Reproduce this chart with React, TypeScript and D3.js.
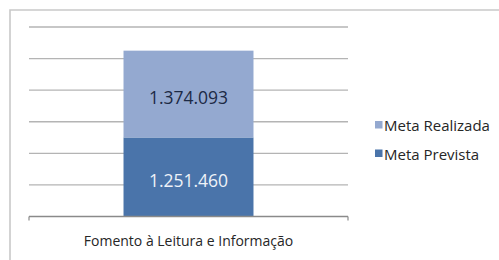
import React from "react";
import * as d3 from "d3";

const categories = ["Fomento à Leitura e Informação"];
const seriesNames = ["Meta Prevista", "Meta Realizada"];
const metaPrevista = [1251460];
const metaRealizada = [1374093];
const tickValues = [0, 500000, 1000000, 1500000, 2000000, 2500000, 3000000];
const colors = ["#4a74aa", "#94a9d0"];
const labelColors = ["#eef2f8", "#1c2a45"];

const fmt = (v: number) => d3.format(",")(v).replace(/,/g, ".");

export default function App() {
  const W = 499, H = 260;
  const font = "'Open Sans', sans-serif";

  const x = d3.scaleBand().domain(categories).range([29, 348]).padding(0.421);
  const y = d3.scaleLinear().domain([0, 3000000]).range([216.5, 27]);

  const table = categories.map((c, i) => ({ cat: c, prev: metaPrevista[i], real: metaRealizada[i] }));
  const stacked = d3.stack<any>().keys(["prev", "real"])(table);

  return (
    <svg width={W} height={H} style={{ position: "absolute", left: 0, top: 0, background: "#fff" }}>
      {/* frame */}
      <path d={`M10,${H} V10 H${W}`} fill="none" stroke="#c9c9c9" strokeWidth={1.6} />

      {/* gridlines */}
      {tickValues.slice(1).map(t => (
        <line key={t} x1={29} x2={348} y1={y(t)} y2={y(t)} stroke="#b4b4b4" strokeWidth={1.4} />
      ))}

      {/* bars */}
      {stacked.map((s, si) => s.map((d, i) => {
        const cat = categories[i];
        const bx = x(cat)!;
        const y0 = y(d[0]), y1 = y(d[1]);
        const v = d[1] - d[0];
        return (
          <g key={si + "-" + i}>
            <rect x={bx} width={x.bandwidth()} y={y1} height={y0 - y1} fill={colors[si]} />
            <text x={bx + x.bandwidth() / 2} y={(y0 + y1) / 2 + 3} textAnchor="middle" dominantBaseline="central"
              fontFamily={font} fontSize={17.5} fill={labelColors[si]}>{fmt(v)}</text>
          </g>
        );
      }))}

      {/* x axis */}
      <line x1={29} x2={348} y1={y(0)} y2={y(0)} stroke="#8a8a8a" strokeWidth={1.4} />
      <line x1={29} x2={29} y1={y(0)} y2={y(0) + 4} stroke="#8a8a8a" strokeWidth={1.2} />
      <line x1={348} x2={348} y1={y(0)} y2={y(0) + 4} stroke="#8a8a8a" strokeWidth={1.2} />
      {categories.map(c => (
        <text key={c} x={x(c)! + x.bandwidth() / 2} y={246} textAnchor="middle"
          fontFamily={font} fontSize={14} fill="#262626">{c}</text>
      ))}

      {/* legend */}
      {[1, 0].map((si, k) => (
        <g key={si} transform={`translate(375,${125 + k * 28.5})`}>
          <rect x={0} y={-4} width={7.5} height={7.5} fill={colors[si]} />
          <text x={9} y={0} dominantBaseline="central" fontFamily={font} fontSize={15} fill="#262626">{seriesNames[si]}</text>
        </g>
      ))}
    </svg>
  );
}
